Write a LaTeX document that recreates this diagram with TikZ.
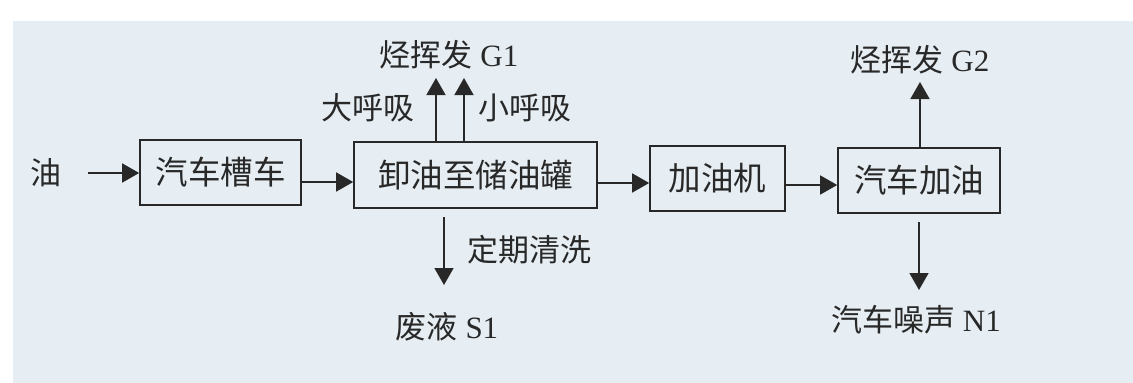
\documentclass[tikz,border=0pt]{standalone}
\usepackage{fontspec}
\setmainfont{Liberation Serif}
\newfontfamily\cjk{Noto Sans CJK SC}
\usetikzlibrary{arrows.meta}
\definecolor{ink}{RGB}{40,40,40}
\definecolor{paper}{RGB}{230,238,243}
\begin{document}
\begin{tikzpicture}[x=1pt,y=-1pt,
  box/.style={draw=ink,line width=1.6pt,inner sep=0pt,text=ink,font=\fontsize{32.5}{32.5}\selectfont\cjk},
  lab/.style={inner sep=0pt,text=ink,font=\fontsize{31}{31}\selectfont},
  flow/.style={draw=ink,line width=1.5pt,-{Triangle[length=17pt,width=19pt]}}]
\fill[white] (0,0) rectangle (1133,383);
\fill[paper] (13,21) rectangle (1133,383);
\useasboundingbox (0,0) rectangle (1133,383);
% boxes
\node[box,minimum width=161pt,minimum height=65pt] (b1) at (220.5,172.5) {汽车槽车};
\node[box,minimum width=243pt,minimum height=66pt] (b2) at (475.5,175) {卸油至储油罐};
\node[box,minimum width=135pt,minimum height=65pt] (b3) at (717.5,178.5) {加油机};
\node[box,minimum width=162pt,minimum height=65pt] (b4) at (919,180.5) {汽车加油};
% labels
\node[lab] (oil) at (46,173) {\cjk 油};
\node[lab] (g1) at (449,55) {{\cjk 烃挥发} G1};
\node[lab] (big) at (368,108) {\cjk 大呼吸};
\node[lab] (small) at (525,108) {\cjk 小呼吸};
\node[lab] (clean) at (529,250) {\cjk 定期清洗};
\node[lab] (s1) at (447,327) {{\cjk 废液} S1};
\node[lab] (g2) at (920,60) {{\cjk 烃挥发} G2};
\node[lab] (n1) at (916,320) {{\cjk 汽车噪声} N1};
% helper coordinates
\coordinate (oilend) at (88,173);
\coordinate (r1) at (0,182);
\coordinate (r2) at (0,183);
\coordinate (r3) at (0,185);
\coordinate (ga) at (436,78);
\coordinate (gb) at (464,78);
\coordinate (sa) at (444,217);
\coordinate (sb) at (444,285);
\coordinate (g2t) at (920,82);
\coordinate (na) at (919,222);
\coordinate (nb) at (919,290);
% connectors
\draw[flow] (oilend) -- (b1.west |- oilend);
\draw[flow] (b1.east |- r1) -- (b2.west |- r1);
\draw[flow] (b2.east |- r2) -- (b3.west |- r2);
\draw[flow] (b3.east |- r3) -- (b4.west |- r3);
\draw[flow] (b2.north -| ga) -- (ga);
\draw[flow] (b2.north -| gb) -- (gb);
\draw[flow] (sa) -- (sb);
\draw[flow] (b4.north -| g2t) -- (g2t);
\draw[flow] (na) -- (nb);
\end{tikzpicture}
\end{document}
